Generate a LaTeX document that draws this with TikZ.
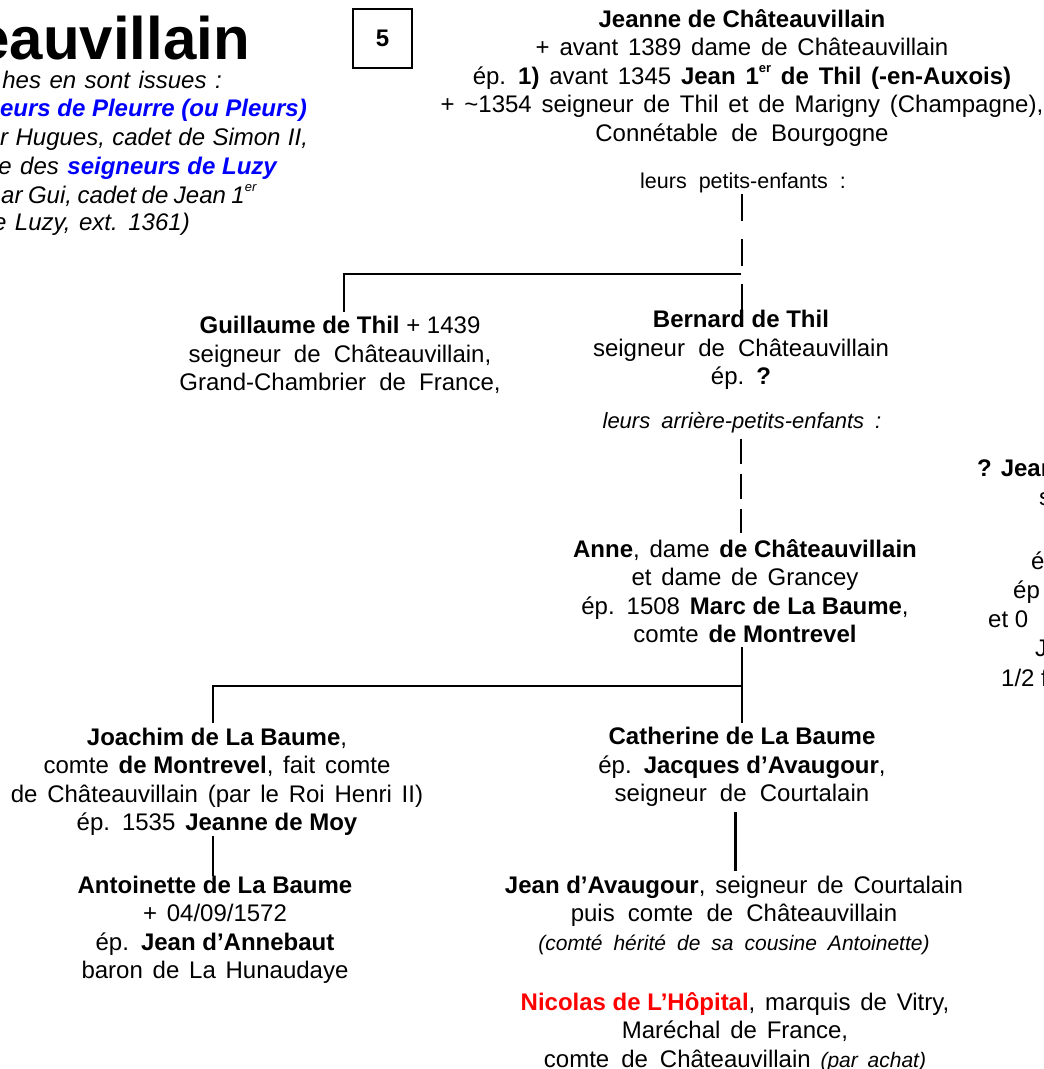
\documentclass[tikz,border=0pt]{standalone}
\usepackage{fontspec}
\setmainfont{Liberation Sans}
\definecolor{lblue}{RGB}{0,0,255}
\definecolor{lred}{RGB}{255,0,0}
\newcommand\mainsp{\spaceskip=9.8pt\relax}
\newcommand\leftsp{\spaceskip=8.5pt\relax}
\newcommand\spC{\spaceskip=7.4pt\relax}
\newcommand\spD{\spaceskip=5.5pt\relax}
\newcommand\labspA{\spaceskip=12pt\relax}
\newcommand\labspB{\spaceskip=11pt\relax}
\newcommand\wsp[1]{{\spaceskip=13.2pt\relax #1}}
\newcommand\B[1]{\textbf{\spaceskip=0pt\relax #1}}
\newcommand\supr[1]{\raisebox{0.5em}{\fontsize{13}{13}\selectfont #1}}
\begin{document}
\begin{tikzpicture}[x=1pt,y=-1pt,
  main/.style={align=center, inner sep=0pt, font=\fontsize{24}{28.5}\selectfont\mainsp},
  lab/.style={inner sep=0pt, font=\fontsize{21.5}{24}\selectfont},
  conn/.style={line width=2.5pt},
  dashA/.style={line width=2.5pt, dash pattern=on 27pt off 18pt},
  dashB/.style={line width=2.5pt, dash pattern=on 25.5pt off 9.5pt},
  rfrag/.style={inner sep=0pt, anchor=base west, font=\fontsize{24}{28.5}\selectfont},
  lfrag/.style={inner sep=0pt, anchor=base east, font=\fontsize{24}{28.5}\selectfont\itshape\leftsp},
  numbox/.style={draw, line width=1.3pt, minimum width=59pt, minimum height=59pt, inner sep=0pt, font=\fontsize{24}{28}\selectfont\bfseries}]
\useasboundingbox (0,0) rectangle (1044,1069);
\clip (0,0) rectangle (1044,1069);

% top-left header fragments
\node[inner sep=0pt, anchor=base east, font=\fontsize{60}{66}\selectfont\bfseries] (title) at (250,59) {eauvillain};
\node[lfrag] (l1) at (222,88.5) {hes en sont issues :};
\node[lfrag, text=lblue, font=\fontsize{24}{28.5}\selectfont\bfseries\itshape] (l2) at (307,116.5) {eurs de Pleurre (ou Pleurs)};
\node[lfrag, anchor=base west, font=\fontsize{24}{28.5}\selectfont\itshape\spC] (l3) at (0,145.5) {r Hugues, cadet de Simon II,};
\node[lfrag] (l4) at (277,174.5) {e des \textcolor{lblue}{\bfseries\spaceskip=0pt\relax seigneurs de Luzy}};
\node[lfrag, anchor=base west, font=\fontsize{24}{28.5}\selectfont\itshape\spD] (l5) at (1,203.5) {ar Gui, cadet de Jean 1\supr{er}};
\node[lfrag] (l6) at (190,230.5) {e Luzy, ext. 1361)};

\node[numbox] (num) at (382.5,38.5) {5};

% blocks
\node[main] (jeanne) at (742,78) {\B{Jeanne de Châteauvillain}\\
+ avant 1389 dame de Châteauvillain\\
ép. \textbf{1)} avant 1345 \textbf{Jean 1\supr{er} de Thil (-en-Auxois)}\\
+ \textasciitilde1354 seigneur de Thil et de Marigny (Champagne),\\
\wsp{Connétable de Bourgogne}};

\node[lab] (petits) at (743,183) {\labspA leurs petits-enfants :};

\node[main] (guillaume) at (340,355) {{\spaceskip=0pt\relax\B{Guillaume de Thil} + 1439}\\
\wsp{seigneur de Châteauvillain,}\\
\wsp{Grand-Chambrier de France,}};

\node[main] (bernard) at (741,350) {\B{Bernard de Thil}\\
\wsp{seigneur de Châteauvillain}\\
ép. \textbf{?}};

\node[lab, font=\fontsize{22}{24}\selectfont\itshape] (arriere) at (742,423) {\labspB leurs arrière-petits-enfants :};

\node[main] (anne) at (745,591) {\textbf{Anne}, dame \B{de Châteauvillain}\\
et dame de Grancey\\
ép. 1508 \B{Marc de La Baume},\\
comte \B{de Montrevel}};

\node[main] (joachim) at (217,782) {\B{Joachim de La Baume},\\
comte \B{de Montrevel}, fait comte\\
de Châteauvillain (par le Roi Henri II)\\
ép. 1535 \B{Jeanne de Moy}};

\node[main] (antoinette) at (215,930) {\B{Antoinette de La Baume}\\
+ 04/09/1572\\
ép. \B{Jean d’Annebaut}\\
baron de La Hunaudaye};

\node[main] (catherine) at (742,767) {\B{Catherine de La Baume}\\
ép. \B{Jacques d’Avaugour},\\
\wsp{seigneur de Courtalain}};

\node[main] (jean) at (734,915) {\B{Jean d’Avaugour}, seigneur de Courtalain\\
\wsp{puis comte de Châteauvillain}\\
{\fontsize{21}{24}\selectfont\itshape\labspB (comté hérité de sa cousine Antoinette)}};

\node[main] (nicolas) at (735,1032) {\textcolor{lred}{\B{Nicolas de L’Hôpital}}, marquis de Vitry,\\
Maréchal de France,\\
{\spaceskip=12pt\relax comte de Châteauvillain} {\fontsize{21}{24}\selectfont\itshape (par achat)}};

% right-edge fragments
\node[rfrag] (r1) at (977,476.5) {\textbf{? Jean}};
\node[rfrag] (r2) at (1039,505) {s};
\node[rfrag] (r3) at (1031,569) {é};
\node[rfrag] (r4) at (1013,598) {ép};
\node[rfrag] (r5) at (988,627) {et 0};
\node[rfrag] (r6) at (1035,656) {J};
\node[rfrag] (r7) at (1001,686) {1/2 f};

% connectors
\coordinate (br1) at (741,274);
\coordinate (br2) at (741,686);
\draw[dashA, shorten <=1pt, shorten >=-3pt] ([xshift=-1pt]petits.south) -- ([xshift=-1pt]petits.south |- bernard.north);
\draw[conn, shorten >=4pt] (br1) -| ([xshift=4pt]guillaume.north);
\draw[dashB, shorten <=5pt, shorten >=6pt] ([xshift=-1pt]arriere.south) -- ([xshift=-1pt]arriere.south |- anne.north);
\draw[conn, shorten <=4pt, shorten >=4pt] (anne.south -| catherine.north) -- (catherine.north);
\draw[conn, shorten >=5pt] (br2) -| ([xshift=-4pt]joachim.north);
\draw[conn] ([xshift=-2pt]antoinette.north |- joachim.south) -- ([xshift=-2pt]antoinette.north);
\draw[conn, shorten <=5pt, shorten >=4pt] ([xshift=1.5pt]jean.north |- catherine.south) -- ([xshift=1.5pt]jean.north);
\end{tikzpicture}
\end{document}
